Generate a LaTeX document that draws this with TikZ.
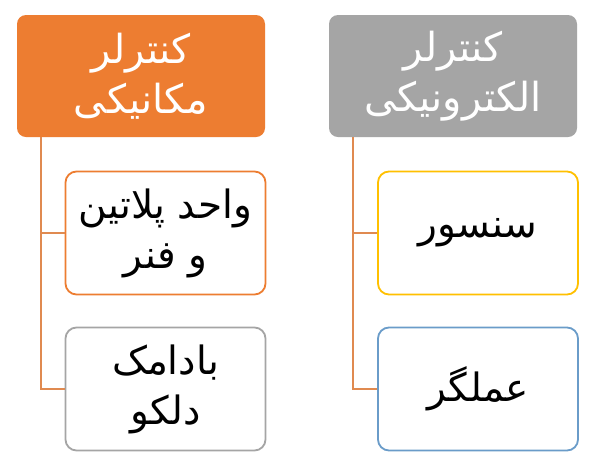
\documentclass[tikz,border=0pt]{standalone}
\usepackage{fontspec}
\newfontfamily\arfont[Script=Arabic]{DejaVu Sans}
\TeXXeTstate=1
\definecolor{orhdr}{HTML}{ED7D31}
\definecolor{grhdr}{HTML}{A5A5A5}
\definecolor{conncol}{HTML}{E08A50}
\definecolor{yelbd}{HTML}{FFC000}
\definecolor{blubd}{HTML}{6A9CC9}
\tikzset{
  hdr/.style={rounded corners=9pt, minimum width=248pt, minimum height=122pt, inner sep=0pt,
    text=white, align=center, font=\arfont\fontsize{40}{50}\selectfont},
  child/.style={rounded corners=11pt, draw, line width=1.8pt, minimum width=200pt, minimum height=123pt,
    inner sep=0pt, fill=white, text=black, align=center, font=\arfont\fontsize{39}{50}\selectfont},
  conn/.style={draw=conncol, line width=1.8pt}
}
\begin{document}
\begin{tikzpicture}[x=1pt,y=-1pt]
\useasboundingbox[fill=white] (0,0) rectangle (592,459);
\node[hdr, fill=orhdr] (hl) at (141,76) {\beginR کنترلر\endR\\\beginR مکانیکی\endR};
\node[hdr, fill=grhdr] (hr) at (453,76) {\beginR کنترلر\endR\\\beginR الکترونیکی\endR};
\node[child, draw=orhdr] (l1) at (165.5,233) {\beginR واحد پلاتین\endR\\\beginR و فنر\endR};
\node[child, draw=grhdr] (l2) at (165.5,389) {\beginR بادامک\endR\\\beginR دلکو\endR};
\node[child, draw=yelbd] (r1) at (478,233) {\beginR سنسور\endR};
\node[child, draw=blubd] (r2) at (478,389) {\beginR عملگر\endR};
\draw[conn] ([xshift=24pt]hl.south west) |- (l1.west);
\draw[conn] ([xshift=24pt]hl.south west) |- (l2.west);
\draw[conn] ([xshift=24pt]hr.south west) |- (r1.west);
\draw[conn] ([xshift=24pt]hr.south west) |- (r2.west);
\end{tikzpicture}
\end{document}
